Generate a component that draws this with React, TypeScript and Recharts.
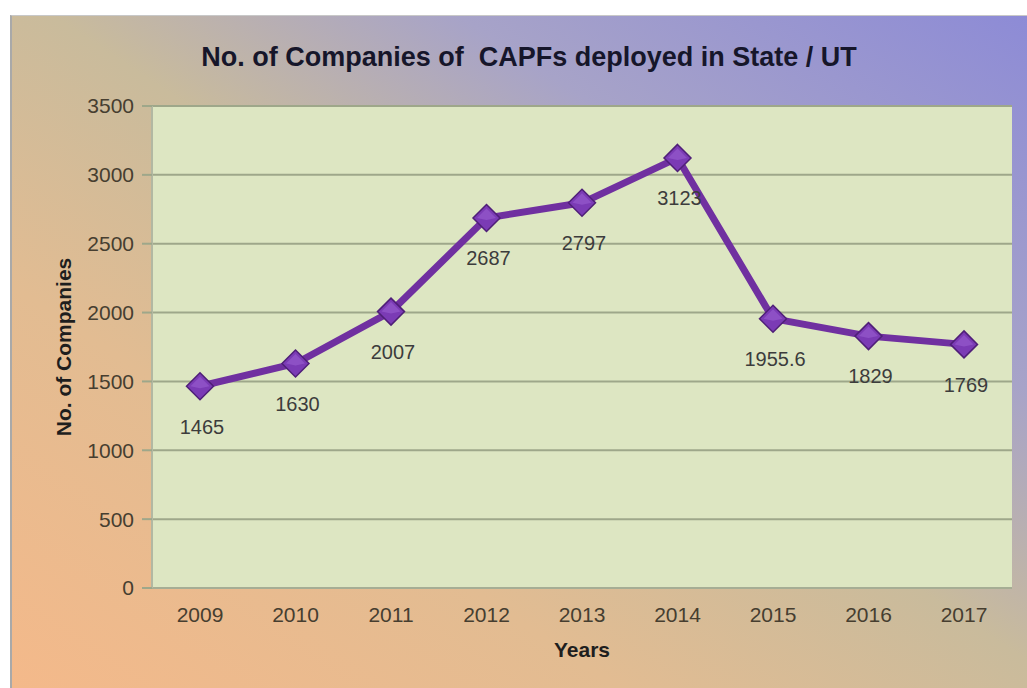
import { LineChart, Line, XAxis, YAxis, CartesianGrid, LabelList } from 'recharts';

const years = ['2009', '2010', '2011', '2012', '2013', '2014', '2015', '2016', '2017'];
const companies = [1465, 1630, 2007, 2687, 2797, 3123, 1955.6, 1829, 1769];
const yTicks = [0, 500, 1000, 1500, 2000, 2500, 3000, 3500];

const data = years.map((year, i) => ({ year, companies: companies[i] }));

const font = 'Arial, "Liberation Sans", sans-serif';

function Diamond(props: any) {
  const { cx, cy } = props;
  if (cx == null || cy == null) return null;
  const r = 13.5;
  return (
    <g>
      <polygon
        points={`${cx},${cy - r} ${cx + r},${cy} ${cx},${cy + r} ${cx - r},${cy}`}
        fill="#7b3bb5"
        stroke="#4f1f78"
        strokeWidth={1.5}
      />
      <polygon
        points={`${cx},${cy - r + 4} ${cx + r - 4},${cy} ${cx},${cy + 2} ${cx - r + 4},${cy}`}
        fill="#9a5fd0"
        opacity={0.6}
      />
    </g>
  );
}

function ValueLabel(props: any) {
  const { x, y, value } = props;
  return (
    <text
      x={x + 2}
      y={y + 42}
      textAnchor="middle"
      dominantBaseline="middle"
      fill="#3c3c3c"
      fontSize={20}
      fontFamily={font}
    >
      {value}
    </text>
  );
}

export default function App() {
  return (
    <div style={{ position: 'absolute', left: 0, top: 0, width: 1027, height: 688, background: '#fff', overflow: 'hidden' }}>
      <div
        style={{
          position: 'absolute',
          left: 10,
          top: 15,
          width: 1017,
          height: 673,
          borderLeft: '2px solid #a9a9a9',
          borderTop: '1px solid #c8c8c8',
          background: 'linear-gradient(to top right, #f4b98a 0%, #e2bc92 30%, #c9bb9c 52%, #a7a3c8 72%, #8d8bd6 100%)',
        }}
      >
        <div
          style={{
            position: 'absolute',
            left: 0,
            width: 1034,
            top: 26,
            textAlign: 'center',
            fontFamily: font,
            fontWeight: 'bold',
            fontSize: 27,
            color: '#16162a',
            whiteSpace: 'pre',
          }}
        >
          {'No. of Companies of  CAPFs deployed in State / UT'}
        </div>
        <div
          style={{
            position: 'absolute',
            left: 52,
            top: 331,
            transform: 'translate(-50%, -50%) rotate(-90deg)',
            fontFamily: font,
            fontWeight: 'bold',
            fontSize: 21,
            color: '#1e1e1e',
            whiteSpace: 'nowrap',
          }}
        >
          No. of Companies
        </div>
        <div
          style={{
            position: 'absolute',
            left: 570,
            top: 634,
            transform: 'translate(-50%, -50%)',
            fontFamily: font,
            fontWeight: 'bold',
            fontSize: 21,
            color: '#1e1e1e',
          }}
        >
          Years
        </div>
        <LineChart
          width={1017}
          height={673}
          data={data}
          margin={{ top: 90, right: 17, left: 50, bottom: 61 }}
          style={{ position: 'absolute', left: 0, top: 0 }}
        >
          <CartesianGrid vertical={false} stroke="#9ea78a" strokeWidth={2} fill="#dde6c2" fillOpacity={1} />
          <XAxis
            dataKey="year"
            height={40}
            padding={{ left: 48, right: 48 }}
            tickLine={false}
            axisLine={{ stroke: '#a6ad94', strokeWidth: 2 }}
            tickMargin={13}
            tick={{ fill: '#463e30', fontSize: 21, fontFamily: font }}
          />
          <YAxis
            width={90}
            domain={[0, 3500]}
            ticks={yTicks}
            interval={0}
            tickSize={10}
            tickMargin={8}
            axisLine={{ stroke: '#b2b8a2', strokeWidth: 2 }}
            tickLine={{ stroke: '#9ea78a', strokeWidth: 2 }}
            tick={{ fill: '#463e30', fontSize: 21, fontFamily: font }}
          />
          <Line
            type="linear"
            dataKey="companies"
            stroke="#7030a0"
            strokeWidth={7}
            dot={<Diamond />}
            activeDot={false}
            isAnimationActive={false}
          >
            <LabelList dataKey="companies" content={<ValueLabel />} />
          </Line>
        </LineChart>
      </div>
    </div>
  );
}
